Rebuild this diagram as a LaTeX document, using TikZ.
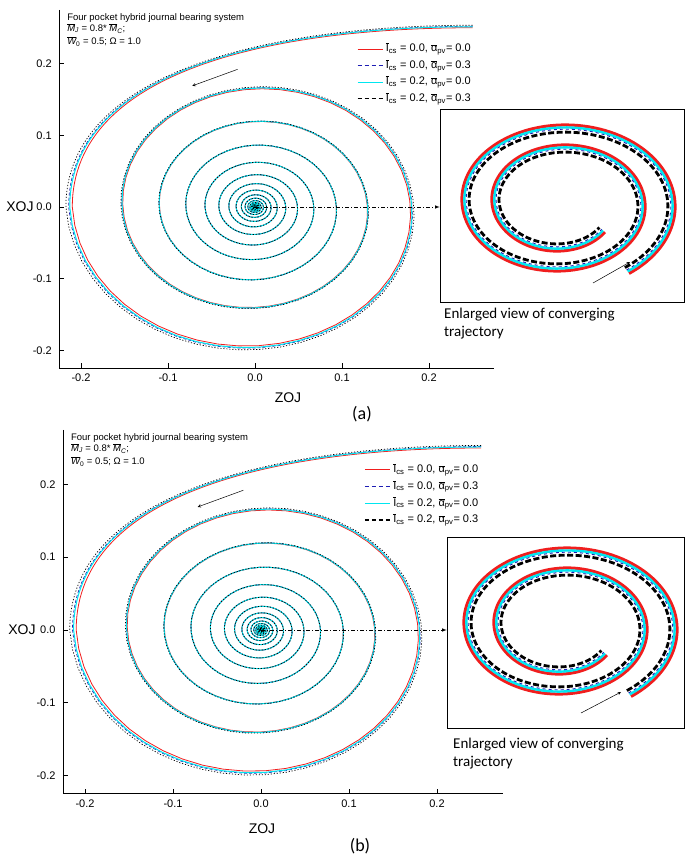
\documentclass[tikz,border=0pt]{standalone}
\usepackage{fontspec}
\setmainfont{Liberation Sans}
\newfontfamily\calfont{Carlito}
\newcommand\ovl[1]{\leavevmode\vbox{\hrule height .35pt\kern.8pt\hbox{#1}}}
\definecolor{cyn}{RGB}{0,230,240}
\definecolor{blu}{RGB}{30,30,180}
\definecolor{rd}{RGB}{240,30,30}
\tikzset{
  lgred/.style={draw=rd,line width=1.2pt},
  lgblue/.style={draw=blu,dash pattern=on 4pt off 3pt,line width=1.2pt},
  lgcyan/.style={draw=cyn,line width=1.3pt},
  lgblack/.style={draw=black,dash pattern=on 4pt off 3pt,line width=1.2pt},
  lgtext/.style={anchor=west,font=\fontsize{11}{12}\selectfont,inner sep=1pt},
  tickmark/.style={line width=0.7pt},
  ticklab/.style={font=\fontsize{11}{12}\selectfont},
  axlab/.style={font=\fontsize{14}{15}\selectfont},
  panlab/.style={font=\calfont\fontsize{18}{19}\selectfont},
  captext/.style={font=\calfont\fontsize{15}{18}\selectfont,anchor=north west,align=left,inner sep=0pt},
  insbox/.style={draw,line width=0.6pt,inner sep=0pt},
  dd/.style={dash pattern=on 4pt off 2pt on 1pt off 2pt,-latex,line width=0.6pt},
  arr/.style={-stealth,line width=0.5pt}
}
\newcommand\spir[2]{\draw[#1] (0.25,{0.25+0.1*#2}) .. controls (0.02,{0.25+0.1*#2}) and ({-0.21*(1+#2)},0.19) .. ({-0.21*(1+#2)},0) -- plot[domain=180:6500,samples=900] ({(1+#2*exp(-(\x-180)/400))*0.21*exp(-0.0009*(\x-180))*cos(\x)},{(1+#2*exp(-(\x-180)/400))*0.21*exp(-0.0009*(\x-180))*sin(\x)});}
\newcommand\ins[2]{\draw[#1] plot[domain=-55:680,samples=250] ({(111+#2-\x/12)*cos(\x)},{(80+#2-\x/18)*sin(\x)});}
\newcommand\leg[2]{\ovl{I}\textsubscript{cs} = #1, \ovl{α}\textsubscript{pv}= #2}
\newcommand\mainplot{%
  \spir{draw=rd,line width=0.8pt}{0}
  \spir{draw=blu,dash pattern=on 3pt off 2pt,line width=0.7pt}{0.02}
  \spir{draw=cyn,line width=1pt}{0.014}
  \spir{black,dash pattern=on 1.2pt off 1.8pt,line width=0.7pt}{0.035}
  \draw[line width=0.8pt] (-0.225,0.275) -- (-0.225,-0.225) -- (0.275,-0.225);
  \foreach \v/\l in {-0.2/-0.2,-0.1/-0.1,0/0.0,0.1/0.1,0.2/0.2}{
    \draw[tickmark] (\v,-0.225) -- ++(0,5pt);
    \node[ticklab,below] at (\v,-0.225) [yshift=-2pt] {\l};
    \draw[tickmark] (-0.225,\v) -- ++(5pt,0);
    \node[ticklab,left] at (-0.225,\v) [xshift=-4pt] {\l};}
  \node[font=\fontsize{9.5}{10}\selectfont,anchor=north west,align=left,inner sep=0pt] at (-0.216,0.27)
    {Four pocket hybrid journal bearing system\\[1pt]\ovl{\itshape M}\textsubscript{\itshape J} = 0.8* \ovl{\itshape M}\textsubscript{\itshape C};\\[3pt]\ovl{\itshape W}\textsubscript{0} = 0.5; Ω = 1.0};
  \draw[lgred] (0.118,0.22) -- (0.147,0.22);   \node[lgtext] at (0.149,0.22) {\leg{0.0}{0.0}};
  \draw[lgblue] (0.118,0.197) -- (0.147,0.197); \node[lgtext] at (0.149,0.197) {\leg{0.0}{0.3}};
  \draw[lgcyan] (0.118,0.174) -- (0.147,0.174); \node[lgtext] at (0.149,0.174) {\leg{0.2}{0.0}};
  \draw[lgblack] (0.118,0.151) -- (0.147,0.151); \node[lgtext] at (0.149,0.151) {\leg{0.2}{0.3}};
  \draw[arr] (-0.02,0.192) -- (-0.072,0.169);
}
\newcommand\inset{%
  \ins{draw=rd,line width=3pt}{3}
  \ins{draw=cyn,line width=2.4pt}{0.5}
  \ins{draw=blu,dashed,line width=0.9pt}{-1.3}
  \ins{draw=black,dash pattern=on 6pt off 2.5pt,line width=2.8pt}{-4.2}
}
\begin{document}
\begin{tikzpicture}
\useasboundingbox (0,0) rectangle (685pt,-858pt);
% panel a
\begin{scope}[shift={(255pt,-207pt)},x=870pt,y=717pt]
  \mainplot
  \coordinate (ca) at (0,0);
\end{scope}
\node[insbox,minimum width=244pt,minimum height=193pt] (boxa) at (562pt,-205.5pt) {};
\begin{scope}[shift={(561pt,-203pt)},x=1pt,y=1pt]\inset\end{scope}
\draw[arr] (593pt,-283pt) -- (630pt,-262pt);
\draw[dd] (ca) -- (boxa.west |- ca);
\node[axlab] (xa) at (20pt,-207pt) {XOJ};
\node[axlab] (za) at (288pt,-398pt) {ZOJ};
\node[panlab] (la) at (362pt,-414pt) {(a)};
\node[captext] (ta) at (444pt,-308pt) {Enlarged view of converging\\trajectory};
% panel b
\begin{scope}[shift={(261pt,-630pt)},x=880pt,y=728pt]
  \mainplot
  \coordinate (cb) at (0,0);
\end{scope}
\node[insbox,minimum width=237pt,minimum height=191pt] (boxb) at (565.5pt,-632.5pt) {};
\begin{scope}[shift={(563pt,-626pt)},x=1pt,y=1pt]\inset\end{scope}
\draw[arr] (581pt,-713pt) -- (621pt,-692pt);
\draw[dd] (cb) -- (boxb.west |- cb);
\node[axlab] (xb) at (22pt,-630pt) {XOJ};
\node[axlab] (zb) at (262pt,-829pt) {ZOJ};
\node[panlab] (lb) at (360pt,-846pt) {(b)};
\node[captext] (tb) at (453pt,-738pt) {Enlarged view of converging\\trajectory};
\end{tikzpicture}
\end{document}
